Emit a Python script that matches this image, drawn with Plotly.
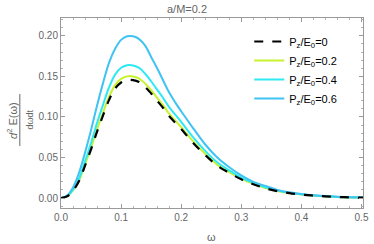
import plotly.graph_objects as go

omega = [0, 0.01, 0.02, 0.03, 0.04, 0.05, 0.06, 0.07, 0.08, 0.09, 0.10, 0.11, 0.12, 0.13, 0.14,
         0.15, 0.16, 0.17, 0.18, 0.19, 0.20, 0.22, 0.24, 0.26, 0.28, 0.30, 0.32, 0.34, 0.36,
         0.38, 0.40, 0.42, 0.44, 0.46, 0.48, 0.50, 0.51]

p_00 = [0, 0.002, 0.009, 0.021, 0.040, 0.060, 0.082, 0.102, 0.121, 0.135, 0.1425, 0.1455, 0.1455,
        0.143, 0.137, 0.129, 0.120, 0.111, 0.101, 0.093, 0.085, 0.068, 0.053, 0.040, 0.031,
        0.023, 0.017, 0.012, 0.0085, 0.006, 0.0042, 0.003, 0.002, 0.0013, 0.0008, 0.0005, 0.0004]

p_02 = [0, 0.002, 0.0093, 0.0217, 0.0413, 0.062, 0.0847, 0.1053, 0.1249, 0.1393, 0.1470, 0.1500,
        0.1500, 0.1474, 0.1412, 0.1329, 0.1236, 0.1143, 0.1040, 0.0957, 0.0874, 0.0699, 0.0545,
        0.0411, 0.0318, 0.0236, 0.0174, 0.0123, 0.0087, 0.0062, 0.0043, 0.0031, 0.0021, 0.0013,
        0.0008, 0.0005, 0.0004]

p_04 = [0, 0.0023, 0.0102, 0.0238, 0.0453, 0.0679, 0.0927, 0.1152, 0.1366, 0.1522, 0.1606, 0.1638,
        0.1635, 0.1604, 0.1533, 0.1440, 0.1336, 0.1233, 0.1120, 0.1029, 0.0939, 0.0749, 0.0582,
        0.0440, 0.0340, 0.0252, 0.0186, 0.0131, 0.0093, 0.0066, 0.0046, 0.0033, 0.0022, 0.0014,
        0.0009, 0.0005, 0.0004]

p_06 = [0, 0.003, 0.013, 0.031, 0.056, 0.084, 0.114, 0.142, 0.167, 0.184, 0.195, 0.1995, 0.1995,
        0.196, 0.188, 0.174, 0.160, 0.145, 0.130, 0.118, 0.107, 0.086, 0.066, 0.050, 0.038,
        0.028, 0.020, 0.015, 0.010, 0.007, 0.005, 0.0035, 0.0024, 0.0016, 0.001, 0.0007, 0.0005]

x_ticks = [0.0, 0.1, 0.2, 0.3, 0.4, 0.5]
x_tick_text = ["0.0", "0.1", "0.2", "0.3", "0.4", "0.5"]
y_ticks = [0.00, 0.05, 0.10, 0.15, 0.20]

fig = go.Figure()
fig.add_trace(go.Scatter(x=omega, y=p_02, mode="lines", line=dict(color="#c6f22e", width=2, shape="spline"),
                         name="P<sub>z</sub>/E<sub>0</sub>=0.2", legendrank=2))
fig.add_trace(go.Scatter(x=omega, y=p_04, mode="lines", line=dict(color="#2ee8f2", width=2, shape="spline"),
                         name="P<sub>z</sub>/E<sub>0</sub>=0.4", legendrank=3))
fig.add_trace(go.Scatter(x=omega, y=p_06, mode="lines", line=dict(color="#3fc3f2", width=2, shape="spline"),
                         name="P<sub>z</sub>/E<sub>0</sub>=0.6", legendrank=4))
fig.add_trace(go.Scatter(x=omega, y=p_00, mode="lines", line=dict(color="black", width=2.2, dash="dash", shape="spline"),
                         name="P<sub>z</sub>/E<sub>0</sub>=0", legendrank=1))

axis_common = dict(showgrid=False, zeroline=False, showline=True, linecolor="#9a9a9a", linewidth=1,
                   mirror="ticks", ticks="inside", ticklen=4, tickcolor="#9a9a9a",
                   ticklabeloverflow="allow",
                   tickfont=dict(family="Liberation Sans, Arial", size=10, color="#666666"))

fig.update_xaxes(range=[0, 0.5025], tickvals=x_ticks, ticktext=x_tick_text,
                 minor=dict(ticks="inside", ticklen=2, tickcolor="#b0b0b0", dtick=0.02),
                 **axis_common)
fig.update_yaxes(range=[-0.0123, 0.222], tickvals=y_ticks, tickformat=".2f",
                 minor=dict(ticks="inside", ticklen=2, tickcolor="#b0b0b0", dtick=0.01),
                 **axis_common)

L, R, T, B = 61, 5, 18, 36
W, H = 374, 244
pw, ph = W - L - R, H - T - B

def px_x(px):
    return (px - L) / pw

def px_y(py):
    return (H - B - py) / ph

fig.update_layout(
    width=W, height=H, margin=dict(l=L, r=R, t=T, b=B),
    paper_bgcolor="white", plot_bgcolor="white",
    title=dict(text="a/M=0.2", x=px_x(215), xanchor="center", y=1 - 9 / H, yanchor="middle",
               font=dict(family="Liberation Sans, Arial", size=11, color="#666666")),
    legend=dict(x=px_x(253), y=px_y(27), xanchor="left", yanchor="top", bgcolor="rgba(0,0,0,0)",
                font=dict(family="Liberation Sans, Arial", size=11, color="black"),
                tracegroupgap=0, itemwidth=30),
    showlegend=True,
)

font_lbl = dict(family="Liberation Sans, Arial", size=11, color="#666666")
fig.add_annotation(text="ω", xref="paper", yref="paper", x=px_x(214), y=px_y(237),
                   showarrow=False, font=font_lbl, xanchor="center", yanchor="middle")
fig.add_annotation(text="<i>d</i><sup>2</sup> E(ω)", xref="paper", yref="paper", x=px_x(11), y=px_y(120),
                   textangle=-90, showarrow=False, font=dict(family="Liberation Sans, Arial", size=11, color="#666666"),
                   xanchor="center", yanchor="middle")
fig.add_annotation(text="dωdt", xref="paper", yref="paper", x=px_x(29), y=px_y(120),
                   textangle=-90, showarrow=False, font=dict(family="Liberation Sans, Arial", size=9, color="#666666"),
                   xanchor="center", yanchor="middle")
fig.add_shape(type="line", xref="paper", yref="paper", x0=px_x(19), x1=px_x(19), y0=px_y(94), y1=px_y(146),
              line=dict(color="#666666", width=1))

fig.write_html("out.html", config={"displayModeBar": False},
               post_script="document.body.style.margin='0';")
